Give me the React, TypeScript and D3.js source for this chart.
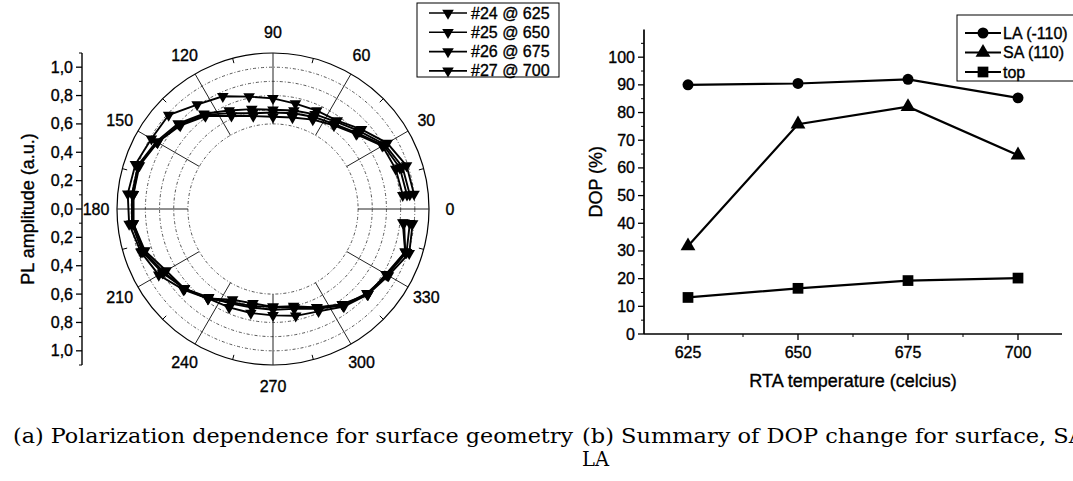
import React from "react";
import * as d3 from "d3";

// ---------- Polar chart data (a) ----------
const angles = [6, 18, 30, 42, 54, 66, 78, 90, 102, 114, 126, 138, 150, 162, 174, 186, 198, 210, 222, 234, 246, 258, 270, 282, 294, 306, 318, 330, 342, 354];
const s24 = [0.92, 0.91, 0.89, 0.79, 0.73, 0.69, 0.66, 0.65, 0.67, 0.72, 0.81, 0.88, 0.94, 0.99, 0.99, 0.99, 0.95, 0.87, 0.84, 0.78, 0.70, 0.68, 0.69, 0.70, 0.76, 0.83, 0.90, 0.92, 0.98, 0.92];
const s25 = [0.95, 0.94, 0.90, 0.80, 0.74, 0.71, 0.69, 0.68, 0.69, 0.74, 0.82, 0.89, 0.94, 1.00, 0.99, 0.99, 0.96, 0.89, 0.84, 0.78, 0.72, 0.70, 0.69, 0.71, 0.76, 0.84, 0.90, 0.93, 0.98, 0.93];
const s26 = [0.97, 0.96, 0.91, 0.82, 0.76, 0.73, 0.71, 0.70, 0.72, 0.76, 0.83, 0.90, 0.95, 1.00, 1.00, 1.00, 0.97, 0.90, 0.84, 0.77, 0.73, 0.71, 0.71, 0.72, 0.77, 0.84, 0.89, 0.93, 0.99, 0.97];
const s27 = [1.00, 0.99, 0.93, 0.84, 0.77, 0.76, 0.76, 0.78, 0.81, 0.87, 0.91, 0.99, 0.99, 1.02, 1.03, 1.02, 0.98, 0.93, 0.85, 0.78, 0.76, 0.75, 0.75, 0.77, 0.79, 0.85, 0.90, 0.94, 1.01, 0.99];
const polarNames = ["#24 @ 625", "#25 @ 650", "#26 @ 675", "#27 @ 700"];
const polarSeries = [s24, s25, s26, s27];
const gridRadii = [0.6, 0.7, 0.8, 0.9, 1.0];
const spokeAngles = [0, 30, 60, 90, 120, 150, 180, 210, 240, 270, 300, 330];
const minorAngles = [15, 45, 75, 105, 135, 165, 195, 225, 255, 285, 315, 345];
const ampTicks = [-1.0, -0.8, -0.6, -0.4, -0.2, 0, 0.2, 0.4, 0.6, 0.8, 1.0];
const ampMinor = [-1.1, -0.9, -0.7, -0.5, -0.3, -0.1, 0.1, 0.3, 0.5, 0.7, 0.9, 1.1];

// ---------- DOP chart data (b) ----------
const temps = [625, 650, 675, 700];
const laVals = [90, 90.5, 92, 85.3];
const saVals = [31.8, 75.8, 82.1, 64.6];
const topVals = [13.2, 16.5, 19.3, 20.2];
const dopNames = ["LA (-110)", "SA (110)", "top"];
const dopTicks = [0, 10, 20, 30, 40, 50, 60, 70, 80, 90, 100];
const dopMinor = [5, 15, 25, 35, 45, 55, 65, 75, 85, 95, 105];
const tempTicks = [625, 650, 675, 700];
const tempMinor = [637.5, 662.5, 687.5];

const SANS = "'Liberation Sans', Arial, Helvetica, sans-serif";
const SERIF = "'DejaVu Serif', 'Liberation Serif', serif";

export default function App() {
  // polar geometry
  const cx = 273, cy = 209;
  const rs = d3.scaleLinear().domain([0, 1.1]).range([0, 156]);
  const toRad = (deg: number) => (deg * Math.PI) / 180;
  const px = (deg: number, v: number) => cx + rs(v) * Math.cos(toRad(deg));
  const py = (deg: number, v: number) => cy - rs(v) * Math.sin(toRad(deg));
  const lineR = d3
    .lineRadial<number>()
    .angle((_, i) => toRad(90 - angles[i]))
    .radius((d) => rs(d));
  const downTri = d3.symbol(d3.symbolTriangle, 58)() as string;

  const yAmp = d3.scaleLinear().domain([-1.1, 1.1]).range([365, 53]);
  const axX = 82;
  const fmtAmp = (v: number) => d3.format(".1f")(Math.abs(v)).replace(".", ",");

  // DOP chart geometry
  const xs = d3.scaleLinear().domain([615, 710]).range([644, 1062]);
  const ys = d3.scaleLinear().domain([0, 110]).range([334, 29.5]);
  const dopLine = d3
    .line<number>()
    .x((_, i) => xs(temps[i]))
    .y((d) => ys(d));
  const circ = d3.symbol(d3.symbolCircle, 95)() as string;
  const tri = d3.symbol(d3.symbolTriangle, 95)() as string;
  const sq = d3.symbol(d3.symbolSquare, 115)() as string;
  const dopSeries = [
    { vals: laVals, sym: circ },
    { vals: saVals, sym: tri },
    { vals: topVals, sym: sq },
  ];

  const txt = { stroke: "#000", strokeWidth: 0.35 } as const;

  return (
    <svg
      width={1073}
      height={481}
      style={{ position: "absolute", left: 0, top: 0, background: "#fff" }}
      fontFamily={SANS}
    >
      <rect x={0} y={0} width={1073} height={481} fill="#fff" />

      {/* ===== Polar chart ===== */}
      <g>
        {gridRadii.map((g) => (
          <circle
            key={g}
            cx={cx}
            cy={cy}
            r={rs(g)}
            fill="none"
            stroke="#444"
            strokeWidth={0.9}
            strokeDasharray="3,2,1,2"
          />
        ))}
        <circle cx={cx} cy={cy} r={rs(1.1)} fill="none" stroke="#000" strokeWidth={1.2} />
        {spokeAngles.map((a) => (
          <line
            key={a}
            x1={px(a, 0.6)}
            y1={py(a, 0.6)}
            x2={px(a, 1.1)}
            y2={py(a, 1.1)}
            stroke="#222"
            strokeWidth={1}
          />
        ))}
        {minorAngles.map((a) => (
          <line
            key={a}
            x1={px(a, 1.1) - 5 * Math.cos(toRad(a))}
            y1={py(a, 1.1) + 5 * Math.sin(toRad(a))}
            x2={px(a, 1.1)}
            y2={py(a, 1.1)}
            stroke="#000"
            strokeWidth={1}
          />
        ))}
        {spokeAngles.map((a) => (
          <text
            key={a}
            x={cx + (rs(1.1) + 21) * Math.cos(toRad(a))}
            y={cy - (rs(1.1) + 21) * Math.sin(toRad(a))}
            fontSize={16}
            textAnchor="middle"
            dominantBaseline="central"
            {...txt}
          >
            {a}
          </text>
        ))}
        {polarSeries.map((s, k) => (
          <g key={k} transform={`translate(${cx},${cy})`}>
            <path d={lineR(s) as string} fill="none" stroke="#000" strokeWidth={1.9} />
            {s.map((v, i) => (
              <path
                key={i}
                d={downTri}
                transform={`translate(${px(angles[i], v) - cx},${py(angles[i], v) - cy}) rotate(180)`}
                fill="#000"
              />
            ))}
          </g>
        ))}

        {/* left amplitude axis */}
        <line x1={axX} y1={yAmp(-1.1)} x2={axX} y2={yAmp(1.1)} stroke="#000" strokeWidth={1.4} />
        {ampTicks.map((t) => (
          <g key={t}>
            <line x1={axX - 6} y1={yAmp(t)} x2={axX} y2={yAmp(t)} stroke="#000" strokeWidth={1.3} />
            <text x={axX - 9} y={yAmp(t)} fontSize={16} textAnchor="end" dominantBaseline="central" {...txt}>
              {fmtAmp(t)}
            </text>
          </g>
        ))}
        {ampMinor.map((t) => (
          <line key={t} x1={axX - 3} y1={yAmp(t)} x2={axX} y2={yAmp(t)} stroke="#000" strokeWidth={1} />
        ))}
        <text
          transform={`translate(28,${cy}) rotate(-90)`}
          fontSize={18}
          textAnchor="middle"
          dominantBaseline="central"
          {...txt}
        >
          PL amplitude (a.u.)
        </text>

        {/* polar legend */}
        <rect x={417} y={3} width={142} height={74} fill="#fff" stroke="#000" strokeWidth={1} />
        {polarNames.map((n, i) => {
          const yy = 13 + i * 19.3;
          return (
            <g key={n}>
              <line x1={429} y1={yy} x2={467} y2={yy} stroke="#000" strokeWidth={1.6} />
              <path d={downTri} transform={`translate(448,${yy}) rotate(180)`} fill="#000" />
              <text x={471} y={yy} fontSize={16} dominantBaseline="central" {...txt}>
                {n}
              </text>
            </g>
          );
        })}
      </g>

      {/* ===== DOP chart ===== */}
      <g>
        <line x1={xs(615)} y1={ys(0)} x2={xs(710)} y2={ys(0)} stroke="#000" strokeWidth={1.7} />
        <line x1={xs(615)} y1={ys(0)} x2={xs(615)} y2={ys(110)} stroke="#000" strokeWidth={1.7} />
        {dopTicks.map((t) => (
          <g key={t}>
            <line x1={xs(615) - 6} y1={ys(t)} x2={xs(615)} y2={ys(t)} stroke="#000" strokeWidth={1.3} />
            <text x={xs(615) - 9} y={ys(t)} fontSize={16} textAnchor="end" dominantBaseline="central" {...txt}>
              {t}
            </text>
          </g>
        ))}
        {dopMinor.map((t) => (
          <line key={t} x1={xs(615) - 3} y1={ys(t)} x2={xs(615)} y2={ys(t)} stroke="#000" strokeWidth={1} />
        ))}
        {tempTicks.map((t) => (
          <g key={t}>
            <line x1={xs(t)} y1={ys(0)} x2={xs(t)} y2={ys(0) + 6} stroke="#000" strokeWidth={1.3} />
            <text x={xs(t)} y={ys(0) + 18} fontSize={16} textAnchor="middle" dominantBaseline="central" {...txt}>
              {t}
            </text>
          </g>
        ))}
        {tempMinor.map((t) => (
          <line key={t} x1={xs(t)} y1={ys(0)} x2={xs(t)} y2={ys(0) + 3} stroke="#000" strokeWidth={1} />
        ))}
        <text
          transform={`translate(596,${(ys(0) + ys(110)) / 2}) rotate(-90)`}
          fontSize={18}
          textAnchor="middle"
          dominantBaseline="central"
          {...txt}
        >
          DOP (%)
        </text>
        <text
          x={(xs(615) + xs(710)) / 2}
          y={381}
          fontSize={18}
          textAnchor="middle"
          dominantBaseline="central"
          {...txt}
        >
          RTA temperature (celcius)
        </text>

        {dopSeries.map((s, k) => (
          <g key={k}>
            <path d={dopLine(s.vals) as string} fill="none" stroke="#000" strokeWidth={2.2} />
            {s.vals.map((v, i) => (
              <path key={i} d={s.sym} transform={`translate(${xs(temps[i])},${ys(v)})`} fill="#000" />
            ))}
          </g>
        ))}

        {/* legend */}
        <rect x={957} y={15} width={130} height={66} fill="#fff" stroke="#000" strokeWidth={1} />
        {dopNames.map((n, i) => {
          const yy = 33 + i * 19.5;
          return (
            <g key={n}>
              <line x1={965} y1={yy} x2={1001} y2={yy} stroke="#000" strokeWidth={2.2} />
              <path d={dopSeries[i].sym} transform={`translate(983,${yy})`} fill="#000" />
              <text x={1003} y={yy} fontSize={16} dominantBaseline="central" {...txt}>
                {n}
              </text>
            </g>
          );
        })}
      </g>

      {/* ===== captions ===== */}
      <g fontFamily={SERIF} fontSize={19.5} fill="#000">
        <text x={13} y={443} textLength={560} lengthAdjust="spacingAndGlyphs">
          (a) Polarization dependence for surface geometry
        </text>
        <text x={582} y={443} textLength={503} lengthAdjust="spacingAndGlyphs">
          (b) Summary of DOP change for surface, SA
        </text>
        <text x={582} y={466}>
          LA
        </text>
      </g>
    </svg>
  );
}
